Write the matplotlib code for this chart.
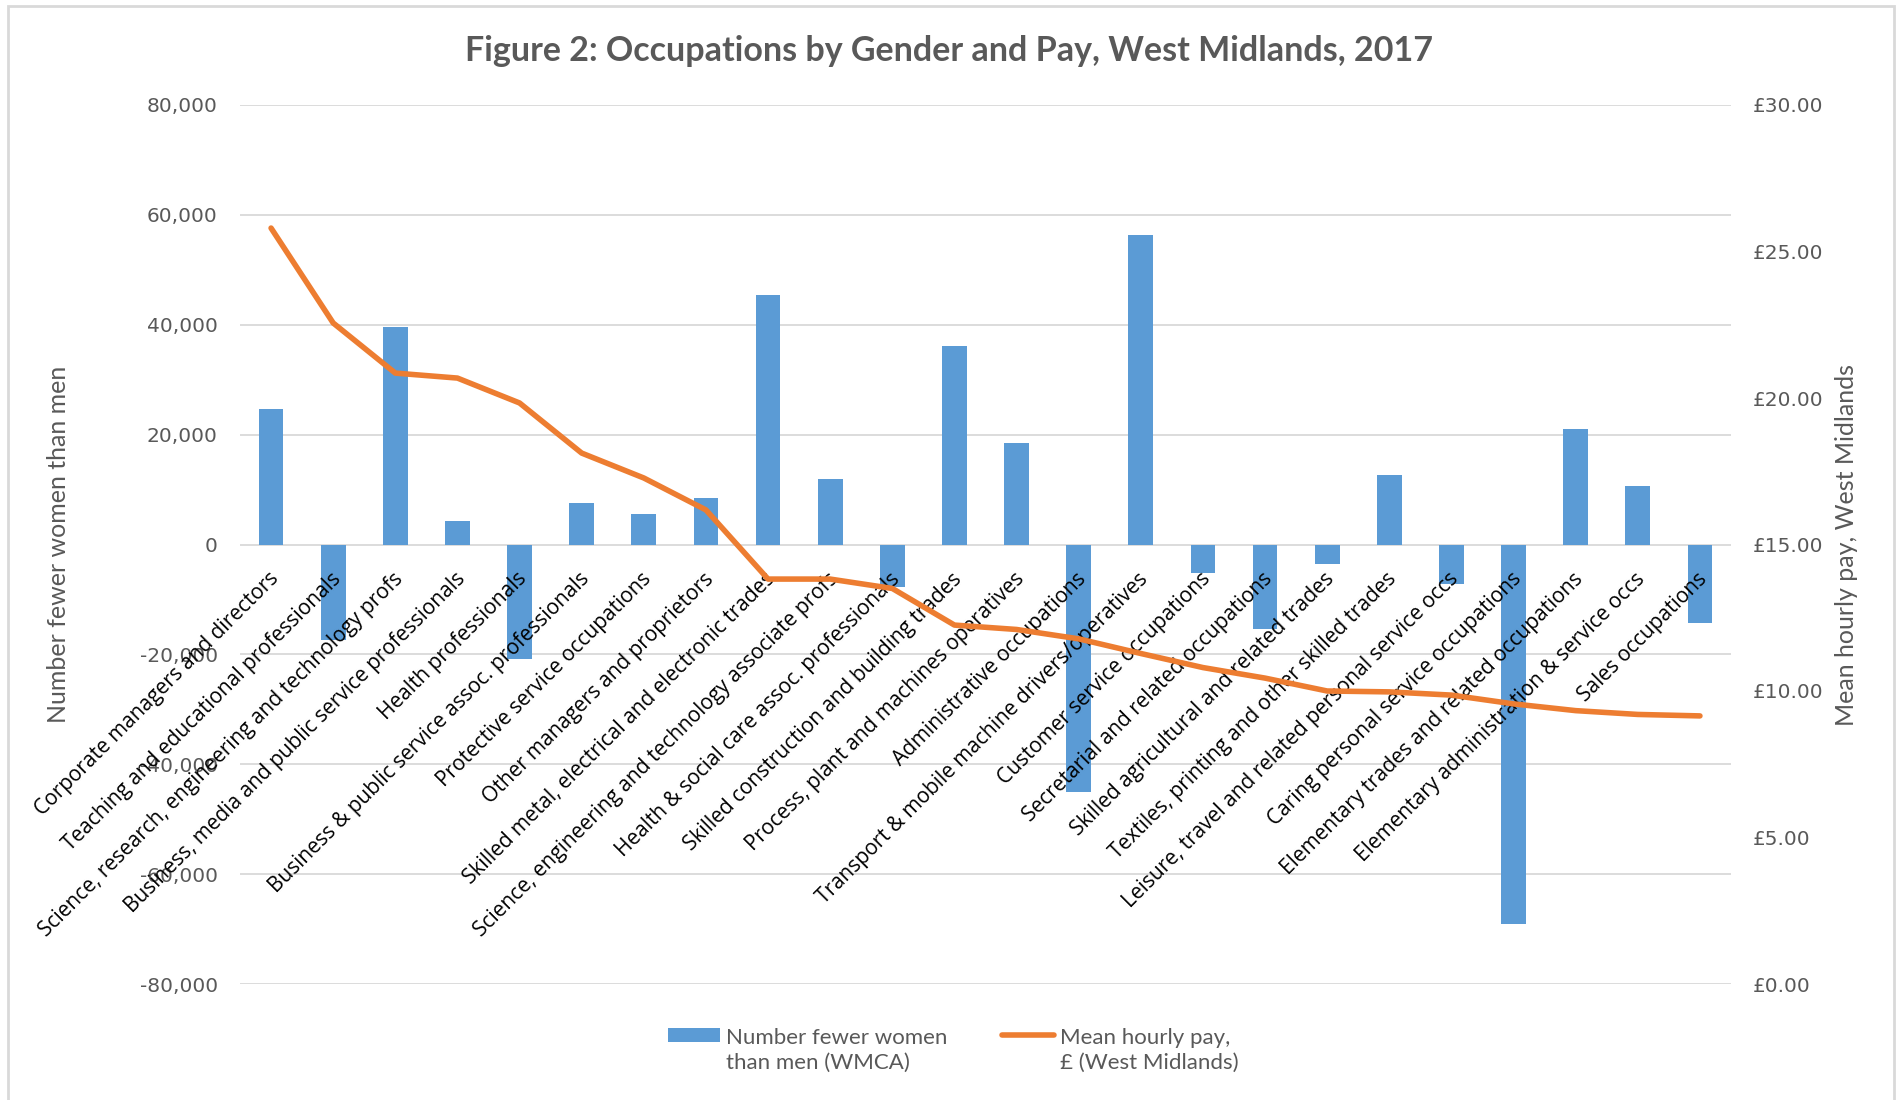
import matplotlib
matplotlib.use("Agg")
import matplotlib.pyplot as plt
import matplotlib.transforms as mtransforms
from matplotlib.patches import Rectangle
from matplotlib.lines import Line2D
from matplotlib.ticker import FuncFormatter, MultipleLocator

occupations = [
    "Corporate managers and directors",
    "Teaching and educational professionals",
    "Science, research, engineering and technology profs",
    "Business, media and public service professionals",
    "Health professionals",
    "Business & public service assoc. professionals",
    "Protective service occupations",
    "Other managers and proprietors",
    "Skilled metal, electrical and electronic trades",
    "Science, engineering and technology associate profs",
    "Health & social care assoc. professionals",
    "Skilled construction and building trades",
    "Process, plant and machines operatives",
    "Administrative occupations",
    "Transport & mobile machine drivers/operatives",
    "Customer service occupations",
    "Secretarial and related occupations",
    "Skilled agricultural and related trades",
    "Textiles, printing and other skilled trades",
    "Leisure, travel and related personal service occs",
    "Caring personal service occupations",
    "Elementary trades and related occupations",
    "Elementary administration & service occs",
    "Sales occupations",
]

# number fewer women than men (WMCA)
fewer_women = [24700, -17300, 39600, 4200, -20900, 7600, 5500, 8400,
               45500, 12000, -7800, 36200, 18400, -45100, 56400, -5100,
               -15300, -3600, 12600, -7200, -69100, 21100, 10700, -14200]

# mean hourly pay, West Midlands (GBP)
mean_pay = [25.80, 22.56, 20.85, 20.68, 19.83, 18.12, 17.27, 16.18,
            13.82, 13.82, 13.50, 12.25, 12.10, 11.78, 11.28, 10.80,
            10.44, 10.00, 9.97, 9.86, 9.56, 9.33, 9.20, 9.15]

legend_labels = ["Number fewer women\nthan men (WMCA)",
                 "Mean hourly pay,\n£ (West Midlands)"]

BLUE = "#5b9bd5"
ORANGE = "#ed7d31"
GREY = "#595959"
GRID = "#d9d9d9"

W, H = 1898, 1100
fig = plt.figure(figsize=(W / 100, H / 100), dpi=100, facecolor="white")

# plot area in pixels: x 240..1731, y 105..984
ax = fig.add_axes([240 / W, 1 - 984 / H, (1731 - 240) / W, (984 - 105) / H])
ax2 = ax.twinx()

x = list(range(len(occupations)))
ax.bar(x, fewer_women, width=0.4, color=BLUE, zorder=2)
ax2.plot(x, mean_pay, color=ORANGE, lw=4, solid_capstyle="round",
         solid_joinstyle="round", zorder=3)

ax.set_xlim(-0.5, len(occupations) - 0.5)
ax.set_ylim(-80000, 80000)
ax.yaxis.set_major_locator(MultipleLocator(20000))
ax.yaxis.set_major_formatter(FuncFormatter(lambda v, p: f"{v:,.0f}"))
ax2.set_ylim(0, 30)
ax2.yaxis.set_major_locator(MultipleLocator(5))
ax2.yaxis.set_major_formatter(FuncFormatter(lambda v, p: f"£{v:.2f}"))

ax.grid(axis="y", color=GRID, lw=1.3, zorder=0)
ax.set_axisbelow(True)
ax.set_xticks([])
for a in (ax, ax2):
    for s in a.spines.values():
        s.set_visible(False)
    a.tick_params(axis="y", length=0, labelsize=14.5, labelcolor=GREY, pad=16)
for lab in ax.get_yticklabels() + ax2.get_yticklabels():
    lab.set_family("DejaVu Sans")

ax.set_ylabel("Number fewer women than men", fontsize=18, color=GREY,
              family="Lato", va="center")
ax.yaxis.set_label_coords(-(240 - 58) / (1731 - 240), 0.5)
ax2.set_ylabel("Mean hourly pay, West Midlands", fontsize=18, color=GREY,
               family="Lato", rotation=90, va="center")
ax2.yaxis.set_label_coords(1 + (1846 - 1731) / (1731 - 240), 0.5)

# category labels, rotated, hanging from the zero line
for i, name in enumerate(occupations):
    tr = mtransforms.offset_copy(ax.transData, fig=fig, x=-3, y=-24, units="dots")
    ax.text(i, 0, name, transform=tr, rotation=45, rotation_mode="anchor",
            ha="right", va="top", fontsize=15, family="Open Sans",
            color="black", zorder=4)

fig.text(0.5, 1 - 51 / H, "Figure 2: Occupations by Gender and Pay, West Midlands, 2017",
         ha="center", va="center", fontsize=24.5, fontweight="bold",
         family="Lato", color=GREY)

# legend drawn Excel-style: key next to the first line of each entry
fig.patches.append(Rectangle((668 / W, 1 - 1042 / H), 52 / W, 14 / H,
                             transform=fig.transFigure, facecolor=BLUE,
                             edgecolor="none"))
fig.lines.append(Line2D([1002 / W, 1054 / W], [1 - 1035 / H, 1 - 1035 / H],
                        transform=fig.transFigure, color=ORANGE, lw=4,
                        solid_capstyle="round"))
for tx, txt in zip([726, 1060], legend_labels):
    fig.text(tx / W, 1 - 1050 / H, txt, ha="left", va="center",
             fontsize=16, family="Lato", color=GREY, linespacing=1.3)

fig.patches.append(Rectangle((8 / W, -0.02), (1894 - 8) / W, 1.02 - 6 / H,
                             transform=fig.transFigure, fill=False,
                             edgecolor=GRID, lw=2))

fig.savefig("out.png", dpi=100, facecolor="white")
